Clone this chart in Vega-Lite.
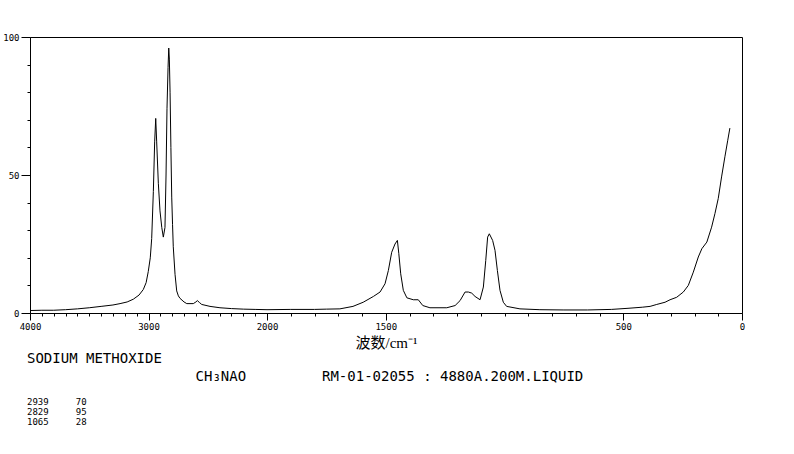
{
  "$schema": "https://vega.github.io/schema/vega-lite/v6.json",
  "autosize": {"type": "none"},
  "padding": {"left": 30, "top": 37, "right": 52, "bottom": 141},
  "width": 712,
  "height": 276,
  "background": "white",
  "title": {
    "text": ["SODIUM METHOXIDE", "\u200b\u00a0\u00a0\u00a0\u00a0\u00a0\u00a0\u00a0\u00a0\u00a0\u00a0\u00a0\u00a0\u00a0\u00a0\u00a0\u00a0\u00a0\u00a0\u00a0\u00a0CH₃NAO\u00a0\u00a0\u00a0\u00a0\u00a0\u00a0\u00a0\u00a0\u00a0RM-01-02055 : 4880A.200M.LIQUID"],
    "subtitle": ["2939\u00a0\u00a0\u00a0\u00a0\u00a070", "2829\u00a0\u00a0\u00a0\u00a0\u00a095", "1065\u00a0\u00a0\u00a0\u00a0\u00a028"],
    "orient": "bottom",
    "anchor": "start",
    "frame": "group",
    "dx": -3,
    "offset": 2,
    "font": "DejaVu Sans Mono",
    "fontSize": 14,
    "fontWeight": "normal",
    "lineHeight": 18,
    "color": "black",
    "subtitleFont": "DejaVu Sans Mono",
    "subtitleFontSize": 9,
    "subtitleLineHeight": 10,
    "subtitleColor": "black",
    "subtitlePadding": 14
  },
  "config": {
    "view": {"stroke": "black", "strokeWidth": 1},
    "axis": {
      "grid": false,
      "domainColor": "black",
      "domainWidth": 1,
      "tickColor": "black",
      "tickWidth": 1,
      "labelColor": "black",
      "labelFont": "DejaVu Sans Mono",
      "labelFontSize": 9,
      "labelOverlap": false,
      "labelBound": false,
      "labelFlush": false
    }
  },
  "data": {
    "values": [
      {"wn": 4000, "v": 0.9}, {"wn": 3900, "v": 1.0}, {"wn": 3800, "v": 1.0}, {"wn": 3700, "v": 1.2},
      {"wn": 3600, "v": 1.5}, {"wn": 3500, "v": 1.9}, {"wn": 3400, "v": 2.4}, {"wn": 3300, "v": 2.9},
      {"wn": 3240, "v": 3.4}, {"wn": 3180, "v": 4.0}, {"wn": 3128, "v": 5.0}, {"wn": 3080, "v": 6.5},
      {"wn": 3044, "v": 8.5}, {"wn": 3020, "v": 11}, {"wn": 3002, "v": 15}, {"wn": 2985, "v": 20},
      {"wn": 2973, "v": 27}, {"wn": 2959, "v": 44}, {"wn": 2948, "v": 62}, {"wn": 2939, "v": 70.5},
      {"wn": 2931, "v": 62}, {"wn": 2917, "v": 47}, {"wn": 2903, "v": 37}, {"wn": 2888, "v": 31},
      {"wn": 2875, "v": 27.5}, {"wn": 2861, "v": 31}, {"wn": 2852, "v": 50}, {"wn": 2844, "v": 74},
      {"wn": 2835, "v": 89}, {"wn": 2829, "v": 96}, {"wn": 2824, "v": 92}, {"wn": 2818, "v": 80},
      {"wn": 2811, "v": 60}, {"wn": 2804, "v": 42}, {"wn": 2797, "v": 32}, {"wn": 2791, "v": 24},
      {"wn": 2776, "v": 14}, {"wn": 2762, "v": 8}, {"wn": 2748, "v": 6.2}, {"wn": 2734, "v": 5.3},
      {"wn": 2700, "v": 4.0}, {"wn": 2677, "v": 3.4}, {"wn": 2622, "v": 3.4}, {"wn": 2600, "v": 4.0},
      {"wn": 2588, "v": 4.5}, {"wn": 2570, "v": 3.8}, {"wn": 2551, "v": 3.1}, {"wn": 2481, "v": 2.4},
      {"wn": 2397, "v": 1.9}, {"wn": 2300, "v": 1.6}, {"wn": 2200, "v": 1.4}, {"wn": 2100, "v": 1.3},
      {"wn": 2000, "v": 1.2}, {"wn": 1900, "v": 1.3}, {"wn": 1800, "v": 1.3}, {"wn": 1750, "v": 1.4},
      {"wn": 1693, "v": 1.5}, {"wn": 1638, "v": 2.4}, {"wn": 1595, "v": 3.9}, {"wn": 1552, "v": 6},
      {"wn": 1524, "v": 7.6}, {"wn": 1503, "v": 10.6}, {"wn": 1489, "v": 15.4}, {"wn": 1475, "v": 22},
      {"wn": 1461, "v": 25}, {"wn": 1451, "v": 26.3}, {"wn": 1445, "v": 21.5}, {"wn": 1437, "v": 14.2},
      {"wn": 1426, "v": 8.2}, {"wn": 1411, "v": 5.5}, {"wn": 1384, "v": 4.8}, {"wn": 1363, "v": 4.8},
      {"wn": 1344, "v": 2.7}, {"wn": 1314, "v": 1.9}, {"wn": 1243, "v": 1.9}, {"wn": 1208, "v": 2.7},
      {"wn": 1187, "v": 4.5}, {"wn": 1166, "v": 7.6}, {"wn": 1152, "v": 7.6}, {"wn": 1138, "v": 7.2},
      {"wn": 1124, "v": 6}, {"wn": 1103, "v": 4.8}, {"wn": 1089, "v": 9.4}, {"wn": 1079, "v": 19},
      {"wn": 1071, "v": 27.5}, {"wn": 1064, "v": 28.7}, {"wn": 1050, "v": 26.3}, {"wn": 1040, "v": 22.7},
      {"wn": 1030, "v": 15.4}, {"wn": 1019, "v": 8.2}, {"wn": 1005, "v": 3.9}, {"wn": 991, "v": 2.4},
      {"wn": 935, "v": 1.5}, {"wn": 851, "v": 1.2}, {"wn": 750, "v": 1.1}, {"wn": 650, "v": 1.1},
      {"wn": 550, "v": 1.3}, {"wn": 480, "v": 1.7}, {"wn": 420, "v": 2.1}, {"wn": 387, "v": 2.4},
      {"wn": 359, "v": 3.1}, {"wn": 324, "v": 3.9}, {"wn": 303, "v": 4.8}, {"wn": 275, "v": 5.7},
      {"wn": 247, "v": 7.6}, {"wn": 226, "v": 10}, {"wn": 205, "v": 14.8}, {"wn": 184, "v": 20.3},
      {"wn": 169, "v": 23.3}, {"wn": 148, "v": 25.7}, {"wn": 128, "v": 31.1}, {"wn": 114, "v": 36},
      {"wn": 100, "v": 41.5}, {"wn": 86, "v": 49.3}, {"wn": 72, "v": 56.6}, {"wn": 60, "v": 62.6},
      {"wn": 51, "v": 67}
    ]
  },
  "mark": {"type": "line", "color": "black", "strokeWidth": 1, "interpolate": "linear"},
  "encoding": {
    "x": {
      "field": "wn",
      "type": "quantitative",
      "scale": {"domain": [4000, 2000, 0], "range": [0, 237, 712], "nice": false, "zero": false},
      "axis": {
        "title": "波数/cm⁻¹",
        "titleFont": "Liberation Serif, Noto Sans CJK SC",
        "titleFontSize": 15,
        "titleFontWeight": "normal",
        "titleColor": "black",
        "titlePadding": 4,
        "format": "d",
        "values": [4000,3900,3800,3700,3600,3500,3400,3300,3200,3100,3000,2900,2800,2700,2600,2500,2400,2300,2200,2100,2000,1900,1800,1700,1600,1500,1400,1300,1200,1100,1000,900,800,700,600,500,400,300,200,100,0],
        "labelExpr": "indexof([4000,3000,2000,1500,500,0], datum.value) >= 0 ? datum.label : ''",
        "tickSize": {"condition": {"test": "indexof([4000,3000,2000,1500,500,0], datum.value) >= 0", "value": 7}, "value": 3},
        "labelPadding": 2
      }
    },
    "y": {
      "field": "v",
      "type": "quantitative",
      "scale": {"domain": [0, 100], "nice": false},
      "axis": {
        "title": null,
        "format": "d",
        "values": [0,10,20,30,40,50,60,70,80,90,100],
        "labelExpr": "datum.value % 50 === 0 ? datum.label : ''",
        "tickSize": {"condition": {"test": "datum.value % 50 === 0", "value": 9}, "value": 3},
        "labelPadding": 2
      }
    }
  }
}
